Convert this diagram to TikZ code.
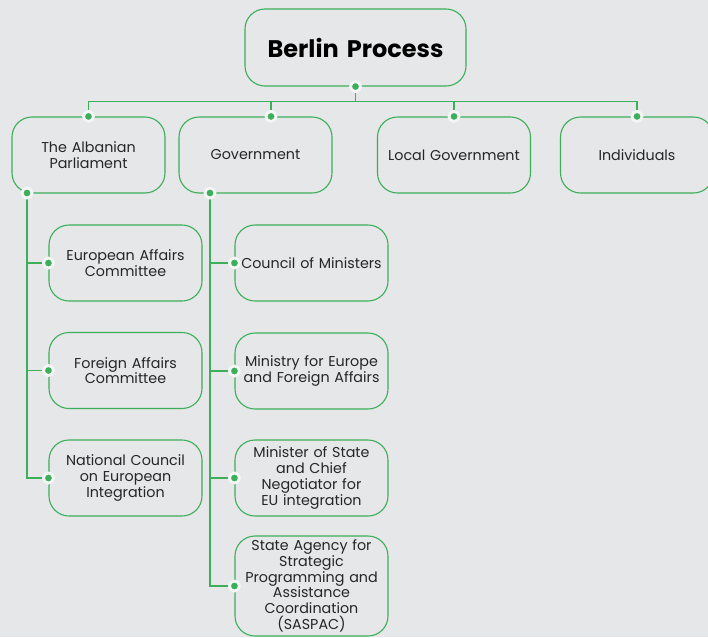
\documentclass[tikz,border=0pt]{standalone}
\usepackage{fontspec}
\setmainfont{Poppins}
\usepackage{tikz}
\usetikzlibrary{positioning,calc}
\definecolor{mygreen}{RGB}{61,174,90}
\definecolor{mybg}{RGB}{230,231,232}
\definecolor{myhalo}{RGB}{244,245,245}

\begin{document}
\begin{tikzpicture}[
  x=1pt, y=-1pt,
  mybox/.style={
    draw=mygreen,
    line width=1.1pt,
    rounded corners=20pt,
    minimum width=153pt,
    minimum height=76pt,
    text width=152pt,
    inner xsep=0pt,
    align=center,
    font=\fontsize{14.3}{15.7}\selectfont,
    text=black!85
    },
  mytitle/.style={
    mybox,
    minimum width=221pt,
    minimum height=77pt,
    text width=215pt,
    font=\fontsize{24}{28}\selectfont\bfseries,
    text=black
    },
  mydot/.style={
    circle,
    fill=mygreen,
    draw=myhalo,
    line width=2.8pt,
    inner sep=0pt,
    minimum size=10pt
    },
  myline/.style={
    draw=mygreen,
    line width=1.1pt
    }
]

\fill[mybg] (0,0) rectangle (708,637);
\useasboundingbox (0,0) rectangle (708,637);

% top
\node[mytitle] (bp) at (355.5,47.5) {Berlin Process};

% first row
\node[mybox] (parl) at (88.5,155) {The Albanian\\Parliament};
\node[mybox] (gov) at (255.5,155) {Government};
\node[mybox] (local) at (454,155) {Local Government};
\node[mybox] (indiv) at (637,155) {Individuals};

% parliament column
\node[mybox] (eac) at (125.5,263) {European Affairs\\Committee};
\node[mybox] (fac) at (125.5,370.5) {Foreign Affairs\\Committee};
\node[mybox] (ncei) at (125.5,478) {National Council\\on European\\Integration};

% government column
\node[mybox] (com) at (311.5,263) {Council of Ministers};
\node[mybox] (mefa) at (311.5,371) {Ministry for Europe\\and Foreign Affairs};
\node[mybox] (msn) at (311.5,478) {Minister of State\\and Chief\\Negotiator for\\EU integration};
\node[mybox, minimum height=100pt] (saspac) at (311.5,586) {State Agency for\\Strategic\\Programming and\\Assistance\\Coordination\\(SASPAC)};

% dots
\coordinate (dbp) at (bp.south);
\coordinate (dparl) at (parl.north);
\coordinate (dgov) at ($(gov.north)+(15.5,0)$);
\coordinate (dlocal) at (local.north);
\coordinate (dindiv) at (indiv.north);
\coordinate (dparlb) at (27,193);
\coordinate (dgovb) at (210,193);
\coordinate (deac) at (eac.west);
\coordinate (dfac) at (fac.west);
\coordinate (dncei) at (ncei.west);
\coordinate (dcom) at (com.west);
\coordinate (dmefa) at (mefa.west);
\coordinate (dmsn) at (msn.west);
\coordinate (dsaspac) at (saspac.west);

% connectors
\draw[myline] (dbp) -- ++(0,15) -| (dparl);
\draw[myline] (dbp) -- ++(0,15) -| (dgov);
\draw[myline] (dbp) -- ++(0,15) -| (dlocal);
\draw[myline] (dbp) -- ++(0,15) -| (dindiv);
\foreach \Hijo in {deac,dfac,dncei}
  \draw[myline] (dparlb) |- (\Hijo);
\foreach \Hijo in {dcom,dmefa,dmsn,dsaspac}
  \draw[myline] (dgovb) |- (\Hijo);

\foreach \Punto in {dbp,dparl,dgov,dlocal,dindiv,dparlb,dgovb,deac,dfac,dncei,dcom,dmefa,dmsn,dsaspac}
  \node[mydot] at (\Punto) {};

\end{tikzpicture}
\end{document}
